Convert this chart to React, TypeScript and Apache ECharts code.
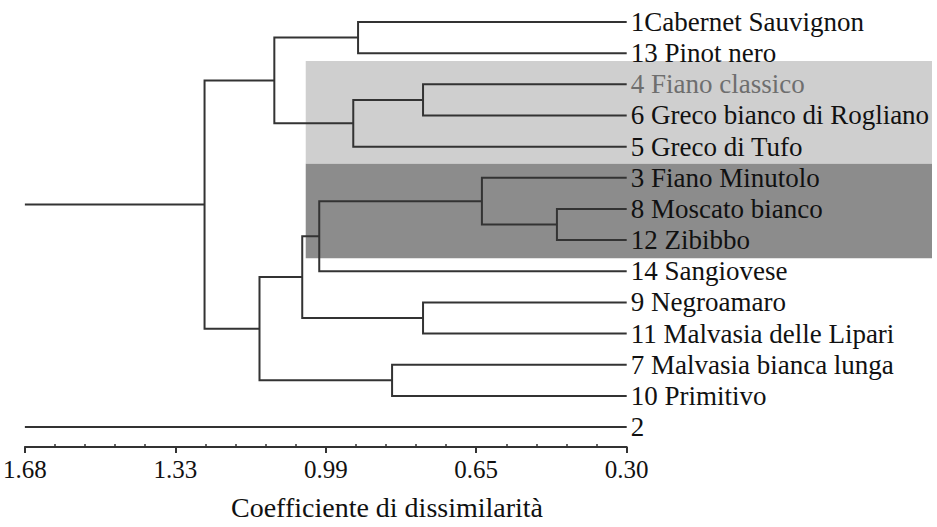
import React, { useEffect, useRef } from "react";
import * as echarts from "echarts";

// Leaves in display order (top to bottom)
const leafLabels = [
  "1Cabernet Sauvignon",
  "13 Pinot nero",
  "4 Fiano classico",
  "6 Greco bianco di Rogliano",
  "5 Greco di Tufo",
  "3 Fiano Minutolo",
  "8 Moscato bianco",
  "12 Zibibbo",
  "14 Sangiovese",
  "9 Negroamaro",
  "11 Malvasia delle Lipari",
  "7 Malvasia bianca lunga",
  "10 Primitivo",
  "2",
];
const grayLabels = ["4 Fiano classico"];

// Agglomeration steps: cluster ids 0..13 are leaves, each merge creates id 14, 15, ...
const mergeLeft = [0, 2, 15, 14, 6, 5, 19, 9, 20, 11, 22, 17];
const mergeRight = [1, 3, 4, 16, 7, 18, 8, 10, 21, 12, 23, 24];
const mergeHeight = [0.916, 0.767, 0.927, 1.108, 0.46, 0.632, 1.005, 0.767, 1.044, 0.838, 1.142, 1.268];
const outlierLeaf = 13; // "2" joins only at the far end

const axisMin = 0.3;
const axisMax = 1.68;
const majorTicks = [1.68, 1.335, 0.99, 0.645, 0.3];
const axisTitle = "Coefficiente di dissimilarità";

// Shaded groups: [x start (dissimilarity), y top, y bottom] in leaf-index units
const lightGroup = [1.036, 1.25, 4.55];
const darkGroup = [1.036, 4.55, 7.58];

const FONT = "Times New Roman, Liberation Serif, DejaVu Serif, serif";

export default function App() {
  const ref = useRef<HTMLDivElement>(null);

  useEffect(() => {
    if (!ref.current) return;
    const chart = echarts.init(ref.current, undefined, { renderer: "svg" });

    // build dendrogram segments
    const nLeaves = leafLabels.length;
    const pos: { y: number; h: number }[] = [];
    for (let i = 0; i < nLeaves; i++) pos.push({ y: i, h: axisMin });
    const segs: { coords: number[][] }[] = [];
    for (let m = 0; m < mergeHeight.length; m++) {
      const a = pos[mergeLeft[m]];
      const b = pos[mergeRight[m]];
      const h = mergeHeight[m];
      segs.push({
        coords: [
          [a.h, a.y],
          [h, a.y],
          [h, b.y],
          [b.h, b.y],
        ],
      });
      pos.push({ y: (a.y + b.y) / 2, h });
    }
    const root = pos[pos.length - 1];
    segs.push({ coords: [[root.h, root.y], [axisMax, root.y]] });
    segs.push({ coords: [[axisMin, outlierLeaf], [axisMax, outlierLeaf]] });

    const minorTicks: number[] = [];
    for (let i = 0; i < majorTicks.length - 1; i++) {
      for (let k = 1; k < 5; k++) {
        minorTicks.push(majorTicks[i] + ((majorTicks[i + 1] - majorTicks[i]) * k) / 5);
      }
    }

    const leafIdx = leafLabels.map((_, i) => i);

    chart.setOption({
      animation: false,
      backgroundColor: "#ffffff",
      textStyle: { fontFamily: FONT },
      grid: { left: 23.3, right: 310.3, top: 22, bottom: 80, containLabel: false },
      xAxis: [
        {
          type: "value",
          inverse: true,
          min: axisMin,
          max: axisMax,
          position: "bottom",
          axisLine: { show: true, onZero: false, lineStyle: { color: "#333", width: 2 } },
          axisTick: { show: true, length: 6, customValues: majorTicks, lineStyle: { color: "#333", width: 2 } },
          axisLabel: {
            show: true,
            customValues: majorTicks,
            formatter: (v: number) => v.toFixed(2),
            fontFamily: FONT,
            fontSize: 25,
            color: "#111",
            margin: 10,
          },
          splitLine: { show: false },
        },
        {
          type: "value",
          inverse: true,
          min: axisMin,
          max: axisMax,
          position: "bottom",
          axisLine: { show: false, onZero: false },
          axisTick: { show: true, inside: true, length: 3, customValues: minorTicks, lineStyle: { color: "#333", width: 1.5 } },
          axisLabel: { show: false },
          splitLine: { show: false },
        },
      ],
      yAxis: {
        type: "value",
        inverse: true,
        min: 0,
        max: 13.64,
        position: "right",
        axisLine: { show: false },
        axisTick: { show: false },
        splitLine: { show: false },
        axisLabel: {
          show: true,
          customValues: leafIdx,
          margin: 4,
          fontFamily: FONT,
          fontSize: 27,
          formatter: (v: number) => {
            const s = leafLabels[Math.round(v)] ?? "";
            return grayLabels.includes(s) ? `{g|${s}}` : `{k|${s}}`;
          },
          rich: {
            k: { fontFamily: FONT, fontSize: 27, color: "#111" },
            g: { fontFamily: FONT, fontSize: 27, color: "#6e6e6e" },
          },
        },
      },
      series: [
        {
          type: "lines",
          coordinateSystem: "cartesian2d",
          polyline: true,
          silent: true,
          z: 5,
          lineStyle: { color: "#333333", width: 2, opacity: 1 },
          data: segs,
        },
      ],
    });

    const boxes = [
      { g: lightGroup, color: "#cfcfcf" },
      { g: darkGroup, color: "#8c8c8c" },
    ];
    const rects = boxes.map(({ g, color }) => {
      const p1 = chart.convertToPixel({ xAxisIndex: 0, yAxisIndex: 0 }, [g[0], g[1]]) as number[];
      const p2 = chart.convertToPixel({ xAxisIndex: 0, yAxisIndex: 0 }, [g[0], g[2]]) as number[];
      return {
        type: "rect",
        z: -10,
        silent: true,
        shape: { x: p1[0], y: p1[1], width: 932 - p1[0], height: p2[1] - p1[1] },
        style: { fill: color },
      };
    });

    chart.setOption({
      graphic: [
        ...rects,
        {
          type: "text",
          x: 387,
          y: 507,
          style: {
            text: axisTitle,
            fontFamily: FONT,
            fontSize: 28,
            fill: "#111",
            align: "center",
            verticalAlign: "middle",
          },
        },
      ],
    });

    return () => chart.dispose();
  }, []);

  return (
    <div
      ref={ref}
      style={{ position: "fixed", left: 0, top: 0, width: 937, height: 527, background: "#fff" }}
    />
  );
}
